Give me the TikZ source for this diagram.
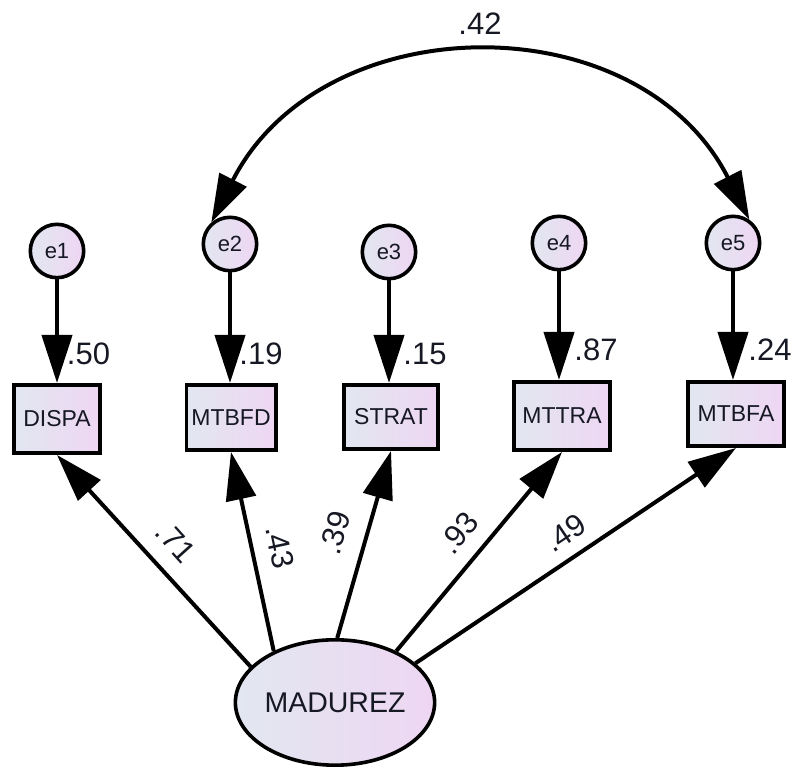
\documentclass[tikz,border=0pt]{standalone}
\usepackage{fontspec}
\setmainfont{Liberation Sans}
\usetikzlibrary{arrows.meta,shapes.geometric}

\definecolor{fillA}{RGB}{226,231,241}
\definecolor{fillB}{RGB}{238,214,242}
\definecolor{ink}{RGB}{22,24,36}

\tikzset{
  shadefill/.style={left color=fillA, right color=fillB},
  obsbox/.style={draw, rectangle, line width=3.6pt, shadefill, inner sep=0pt,
    font=\fontsize{23}{23}\selectfont, text=ink},
  errnode/.style={draw, circle, line width=3.6pt, shadefill, minimum size=53.4pt,
    inner sep=0pt, font=\fontsize{22}{22}\selectfont, text=ink},
  latent/.style={draw, ellipse, line width=3.6pt, shadefill, minimum width=180.4pt,
    minimum height=125.4pt, inner sep=0pt, font=\fontsize{28.5}{28.5}\selectfont, text=ink},
  bigtip/.tip={Triangle[length=48pt,width=30pt]},
  pathline/.style={line width=4pt, -bigtip},
  covline/.style={line width=4pt, bigtip-bigtip},
  coef/.style={font=\fontsize{31}{31}\selectfont, text=ink, inner sep=0pt},
}

\begin{document}
\begin{tikzpicture}[x=1pt,y=1pt]
\useasboundingbox (0,0) rectangle (796,773);

% error terms
\node[errnode] (e1) at (57,522) {e1};
\node[errnode] (e2) at (230,529) {e2};
\node[errnode] (e3) at (389,521) {e3};
\node[errnode] (e4) at (559,530) {e4};
\node[errnode] (e5) at (733,530) {e5};

% observed indicators
\node[obsbox, minimum width=86.4pt, minimum height=68.4pt] (dispa) at (57,354) {DISPA};
\node[obsbox, minimum width=89.4pt, minimum height=65.4pt] (mtbfd) at (231,355.5) {MTBFD};
\node[obsbox, minimum width=94.4pt, minimum height=64.4pt] (strat) at (391,356) {STRAT};
\node[obsbox, minimum width=96.4pt, minimum height=68.4pt] (mttra) at (562,357) {MTTRA};
\node[obsbox, minimum width=96.4pt, minimum height=64.4pt] (mtbfa) at (736,359) {MTBFA};

% latent factor
\node[latent] (mad) at (335,70.5) {MADUREZ};

% error paths
\draw[pathline] (e1) -- (e1 |- dispa.north);
\draw[pathline] (e2) -- (e2 |- mtbfd.north);
\draw[pathline] (e3) -- (e3 |- strat.north);
\draw[pathline] (e4) -- (e4 |- mttra.north);
\draw[pathline] (e5) -- (e5 |- mtbfa.north);

% loadings
\draw[pathline] (mad.157) -- (dispa.south);
\draw[pathline] (mad.140) -- (mtbfd.south);
\draw[pathline] (mad.88) -- (strat.south);
\draw[pathline] (mad.40) -- (mttra.south);
\draw[pathline] (mad.26) -- (mtbfa.south);

% covariance between e2 and e5
\draw[covline] (e2.131) to[out=63,in=117,looseness=1.16] (e5.55);

% squared multiple correlations
\node[coef] (r50) at (88.5,419.5) {.50};
\node[coef] (r19) at (261,419.5) {.19};
\node[coef] (r15) at (425,419) {.15};
\node[coef] (r87) at (596,423.5) {.87};
\node[coef] (r24) at (770,423) {.24};

% covariance value
\node[coef] (c42) at (480,749) {.42};

% standardized loadings
\node[coef, rotate=-48] (w71) at (176,231) {.71};
\node[coef, rotate=-78] (w43) at (280,226) {.43};
\node[coef, rotate=74] (w39) at (335,240) {.39};
\node[coef, rotate=50] (w93) at (459,240) {.93};
\node[coef, rotate=34] (w49) at (565,240) {.49};
\end{tikzpicture}
\end{document}
